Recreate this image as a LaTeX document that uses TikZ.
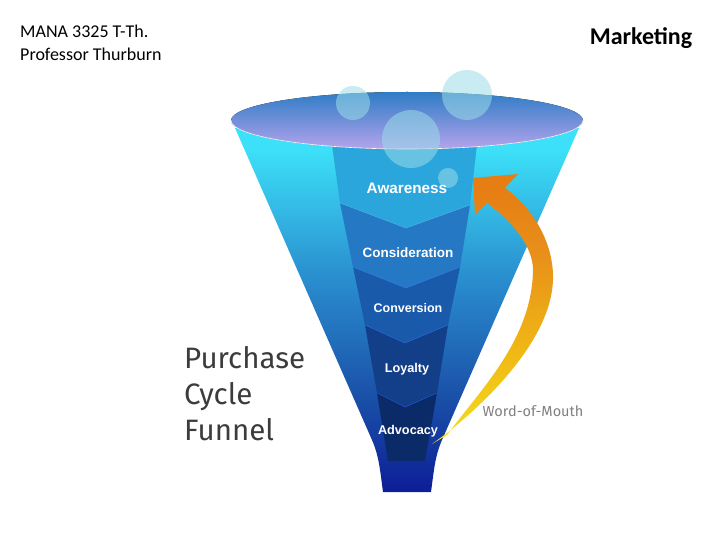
\documentclass[tikz,border=0pt]{standalone}
\usepackage{fontspec}
\setmainfont{Carlito}
\newfontfamily\labelfont{Liberation Sans}
\newfontfamily\titlefont{Fira Sans}
\usepackage{xcolor}

\definecolor{rimtop}{HTML}{2F7CC6}
\definecolor{rimlow}{HTML}{B4A4EC}
\definecolor{bandline}{HTML}{4FB4E6}
\definecolor{greytext}{HTML}{3C3C3C}
\definecolor{funnela}{HTML}{0C1E96}
\definecolor{funnelb}{HTML}{1A50A8}
\definecolor{funnelc}{HTML}{2A90D0}
\definecolor{funneld}{HTML}{3CE0F8}
\definecolor{arrowa}{HTML}{F5E020}
\definecolor{arrowb}{HTML}{F0B814}
\definecolor{arrowc}{HTML}{E8901A}
\definecolor{arrowd}{HTML}{E67E14}
\definecolor{awarecol}{HTML}{2BA6DC}
\definecolor{considercol}{HTML}{2478C4}
\definecolor{convertcol}{HTML}{1A5AAA}
\definecolor{loyalcol}{HTML}{123F88}
\definecolor{advocatecol}{HTML}{0B2A68}
\definecolor{bubblecol}{HTML}{9BDCE7}

\pgfdeclareverticalshading{funnelshade}{100bp}{
	color(0bp)=(funnela);
	color(25bp)=(funnela);
	color(38bp)=(funnelb);
	color(55bp)=(funnelc);
	color(72bp)=(funneld);
	color(100bp)=(funneld)}
\pgfdeclareverticalshading{arrowshade}{100bp}{
	color(0bp)=(arrowa);
	color(25bp)=(arrowa);
	color(42bp)=(arrowb);
	color(60bp)=(arrowc);
	color(72bp)=(arrowd);
	color(100bp)=(arrowd)}

\tikzset{
	bubble/.style={fill=bubblecol,fill opacity=0.55},
	stage/.style={text=white,inner sep=0pt},
	title/.style={font=\titlefont\fontsize{29.5}{36}\selectfont,text=greytext,inner sep=0pt,align=left,anchor=west}
}

\begin{document}
\begin{tikzpicture}[x=1pt,y=-1pt]
	\useasboundingbox (0,0) rectangle (720,540);

	% funnel body
	\path[shading=funnelshade] (235,128) -- (372,440) .. controls (379,456) and (380,470) .. (383,492)
		-- (431,492) .. controls (434,470) and (435,456) .. (442,440) -- (579,128) -- cycle;

	% stages, lowest first
	\fill[advocatecol] (377,393) -- (388,461) -- (425,461) -- (437,393) -- (405,370) -- cycle;
	\fill[loyalcol] (365,325) -- (377,393) -- (405,407) -- (437,393) -- (448,325) -- (405,310) -- cycle;
	\fill[convertcol] (353,267) -- (365,325) -- (405,343) -- (448,325) -- (460,267) -- (405,250) -- cycle;
	\fill[considercol] (340,203) -- (353,267) -- (406,288) -- (460,267) -- (470,205) -- (406,190) -- cycle;
	\fill[awarecol] (332,145) -- (340,203) -- (406,228) -- (470,205) -- (477,145) -- cycle;
	\draw[bandline] (340,203) -- (406,228) -- (470,205);
	\draw[bandline!70!blue] (353,267) -- (406,288) -- (460,267);
	\draw[bandline!60!blue] (365,325) -- (405,343) -- (448,325);
	\draw[bandline!50!blue] (377,393) -- (405,407) -- (437,393);

	% rim and bubbles
	\fill[top color=rimtop,bottom color=rimlow] (407,120.5) ellipse [x radius=176,y radius=28.5];
	\draw[white,semithick] (231,120.5) arc [start angle=180,end angle=360,x radius=176,y radius=-28.5];
	\fill[bubble] (353,103) circle (17);
	\fill[bubble] (467,95) circle (25);
	\fill[bubble] (411,139) circle (29);
	\fill[bubble] (448,178) circle (10);

	% word of mouth arrow
	\path[shading=arrowshade] (432,444) -- (447,435) .. controls (480,390) and (532,340) .. (533,270)
		.. controls (533,245) and (510,220) .. (487,203) -- (475,215) -- (473,178) -- (518,174) -- (505,188)
		.. controls (535,210) and (554,245) .. (553,280) .. controls (551,340) and (486,402) .. (447,433) -- cycle;

	\node[stage,font=\labelfont\bfseries\fontsize{15.3}{17}\selectfont] (awareness) at (407,188) {Awareness};
	\node[stage,font=\labelfont\bfseries\fontsize{13.5}{15}\selectfont] (consideration) at (408,253) {Consideration};
	\node[stage,font=\labelfont\bfseries\fontsize{12.5}{14}\selectfont] (conversion) at (408,308) {Conversion};
	\node[stage,font=\labelfont\bfseries\fontsize{12.7}{14}\selectfont] (loyalty) at (407,369.5) {Loyalty};
	\node[stage,font=\labelfont\bfseries\fontsize{12.7}{14}\selectfont] (advocacy) at (408,431) {Advocacy};

	\node[title] (purchase) at (184,394) {Purchase\\Cycle\\Funnel};
	\node[font=\titlefont\fontsize{14.5}{16}\selectfont,text=gray,inner sep=0pt] (mouth) at (533,411) {Word-of-Mouth};

	\node[inner sep=0pt,anchor=west,align=left,font=\fontsize{18}{22.5}\selectfont] (course) at (20,43) {MANA 3325 T-Th.\\Professor Thurburn};
	\node[inner sep=0pt,font=\bfseries\fontsize{24}{28}\selectfont] (topic) at (641,38) {Marketing};
\end{tikzpicture}
\end{document}
